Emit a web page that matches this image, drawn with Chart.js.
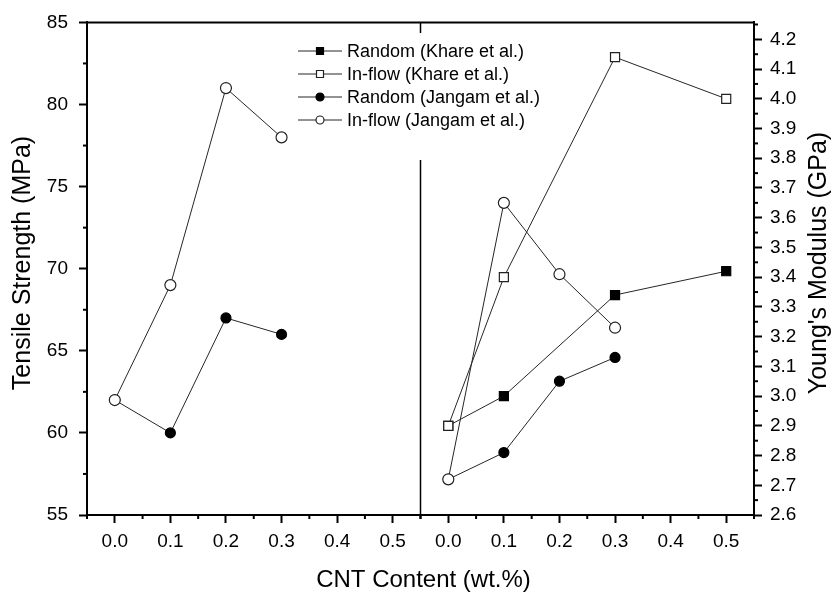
<!DOCTYPE html>
<html>
<head>
<meta charset="utf-8">
<script src="https://cdn.jsdelivr.net/npm/chart.js"></script>
<style>
  html, body { margin: 0; padding: 0; background: #fff; }
  #wrap { width: 834px; height: 596px; }
</style>
</head>
<body>
<div id="wrap"><canvas id="chart" width="834" height="596"></canvas></div>
<script>
// CNT content (wt.%) of each series
const cntJangam = [0, 0.1, 0.2, 0.3];
const cntKhare = [0, 0.1, 0.3, 0.5];

// left panel: tensile strength (MPa), Jangam et al.
const tensileRandomJangam = [62, 60, 67, 66];
const tensileInflowJangam = [62, 69, 81, 78];

// right panel: Young's modulus (GPa)
const modulusRandomKhare = [2.9, 3.0, 3.34, 3.42];
const modulusInflowKhare = [2.9, 3.4, 4.14, 4.0];
const modulusRandomJangam = [2.72, 2.81, 3.05, 3.13];
const modulusInflowJangam = [2.72, 3.65, 3.41, 3.23];

// axis ticks
const xTicks = [0, 0.1, 0.2, 0.3, 0.4, 0.5];
const xMinorTicks = [-0.05, 0.05, 0.15, 0.25, 0.35, 0.45, 0.55];
const tensileTicks = [55, 60, 65, 70, 75, 80, 85];
const tensileMinorTicks = [57.5, 62.5, 67.5, 72.5, 77.5, 82.5];
const modulusTicks = [2.6, 2.7, 2.8, 2.9, 3.0, 3.1, 3.2, 3.3, 3.4, 3.5, 3.6, 3.7, 3.8, 3.9, 4.0, 4.1, 4.2];
const modulusMinorTicks = [2.65, 2.75, 2.85, 2.95, 3.05, 3.15, 3.25, 3.35, 3.45, 3.55, 3.65, 3.75, 3.85, 3.95, 4.05, 4.15, 4.25];

const FONT = "'Liberation Sans', Arial, sans-serif";
const LINE = '#262626';

const pts = (xs, ys) => xs.map((x, i) => ({ x: x, y: ys[i] }));

// builds one series, filled or open marker
function series(label, xs, ys, style, open, xAxisID, yAxisID, inLegend) {
  return {
    label: label,
    data: pts(xs, ys),
    xAxisID: xAxisID,
    yAxisID: yAxisID,
    borderColor: LINE,
    borderWidth: 1,
    pointStyle: style,
    pointRadius: style === 'rect' ? 6.4 : (open ? 5.5 : 5),
    pointBackgroundColor: open ? '#fff' : '#000',
    pointBorderColor: open ? '#222' : '#000',
    pointBorderWidth: 1.2,
    order: open ? 0 : 1,
    inLegend: inLegend
  };
}

function xAxis() {
  return {
    type: 'linear',
    position: 'bottom',
    stack: 'cnt',
    min: -0.05,
    max: 0.55,
    afterBuildTicks: s => { s.ticks = xTicks.map(v => ({ value: v })); },
    afterFit: s => { s.height = 81; },
    grid: { drawOnChartArea: false, drawTicks: true, tickLength: 8, tickColor: '#000', tickWidth: 2 },
    border: { display: true, color: '#000', width: 2 },
    ticks: {
      color: '#000', font: { family: FONT, size: 19 }, padding: 7,
      maxRotation: 0, autoSkip: false, callback: v => v.toFixed(1)
    }
  };
}

function yAxis(position, min, max, tickList, width, pad, digits) {
  return {
    type: 'linear',
    position: position,
    min: min,
    max: max,
    afterBuildTicks: s => { s.ticks = tickList.map(v => ({ value: v })); },
    afterFit: s => { s.width = width; },
    grid: { drawOnChartArea: false, drawTicks: true, tickLength: 8, tickColor: '#000', tickWidth: 2 },
    border: { display: true, color: '#000', width: 2 },
    ticks: {
      color: '#000', font: { family: FONT, size: 19 }, padding: pad,
      autoSkip: false, callback: v => v.toFixed(digits)
    }
  };
}

// frame, divider, minor ticks, legend and axis titles
const decorations = {
  id: 'decorations',
  afterDraw(chart) {
    const { ctx, chartArea: a, scales } = chart;
    const line = (x1, y1, x2, y2) => { ctx.beginPath(); ctx.moveTo(x1, y1); ctx.lineTo(x2, y2); ctx.stroke(); };
    ctx.save();
    ctx.strokeStyle = '#000';

    ctx.lineWidth = 2;
    line(a.left - 1, a.top, a.right + 1, a.top);

    ctx.lineWidth = 1.5;
    const xd = scales.xL.right;
    line(xd, a.top, xd, a.bottom);

    ctx.lineWidth = 2;
    ['xL', 'xR'].forEach(id => {
      xMinorTicks.forEach(v => { const p = scales[id].getPixelForValue(v); line(p, a.bottom, p, a.bottom + 4); });
    });
    tensileMinorTicks.forEach(v => { const p = scales.yL.getPixelForValue(v); line(a.left - 4, p, a.left, p); });
    modulusMinorTicks.forEach(v => { const p = scales.yR.getPixelForValue(v); line(a.right, p, a.right + 4, p); });

    // legend
    ctx.fillStyle = '#fff';
    ctx.fillRect(292, 33, 258, 127);
    const items = chart.data.datasets.filter(d => d.inLegend);
    ctx.font = '18px ' + FONT;
    ctx.textAlign = 'left';
    ctx.textBaseline = 'middle';
    items.forEach((d, i) => {
      const y = 51 + i * 23;
      ctx.strokeStyle = LINE;
      ctx.lineWidth = 1;
      line(298, y, 342, y);
      ctx.fillStyle = d.pointBackgroundColor;
      ctx.strokeStyle = d.pointBorderColor;
      ctx.lineWidth = 1.2;
      ctx.beginPath();
      if (d.pointStyle === 'rect') ctx.rect(320 - 3.5, y - 3.5, 7, 7);
      else ctx.arc(320, y, 4, 0, Math.PI * 2);
      ctx.fill();
      ctx.stroke();
      ctx.fillStyle = '#000';
      ctx.fillText(d.label, 347, y + 1);
    });

    // axis titles
    ctx.fillStyle = '#000';
    ctx.textAlign = 'center';
    ctx.textBaseline = 'middle';
    ctx.font = '24px ' + FONT;
    ctx.fillText('CNT Content (wt.%)', (a.left + a.right) / 2 + 3, 580);
    ctx.font = '25px ' + FONT;
    [[23, 'Tensile Strength (MPa)'], [819, "Young's Modulus (GPa)"]].forEach(([x, t]) => {
      ctx.save();
      ctx.translate(x, 263);
      ctx.rotate(-Math.PI / 2);
      ctx.fillText(t, 0, 0);
      ctx.restore();
    });
    ctx.restore();
  }
};

new Chart(document.getElementById('chart'), {
  type: 'line',
  data: {
    datasets: [
      series('Random (Jangam et al.)', cntJangam, tensileRandomJangam, 'circle', false, 'xL', 'yL', false),
      series('In-flow (Jangam et al.)', cntJangam, tensileInflowJangam, 'circle', true, 'xL', 'yL', false),
      series('Random (Khare et al.)', cntKhare, modulusRandomKhare, 'rect', false, 'xR', 'yR', true),
      series('In-flow (Khare et al.)', cntKhare, modulusInflowKhare, 'rect', true, 'xR', 'yR', true),
      series('Random (Jangam et al.)', cntJangam, modulusRandomJangam, 'circle', false, 'xR', 'yR', true),
      series('In-flow (Jangam et al.)', cntJangam, modulusInflowJangam, 'circle', true, 'xR', 'yR', true)
    ]
  },
  options: {
    responsive: false,
    animation: false,
    devicePixelRatio: 1,
    layout: { padding: { top: 18, left: 0, right: 0, bottom: 0 } },
    scales: {
      xL: xAxis(),
      xR: xAxis(),
      yL: yAxis('left', 55, 85, tensileTicks, 87, 11, 0),
      yR: yAxis('right', 2.6, 4.257, modulusTicks, 80, 8, 1)
    },
    plugins: {
      legend: { display: false },
      tooltip: { enabled: false }
    }
  },
  plugins: [decorations]
});
</script>
</body>
</html>
